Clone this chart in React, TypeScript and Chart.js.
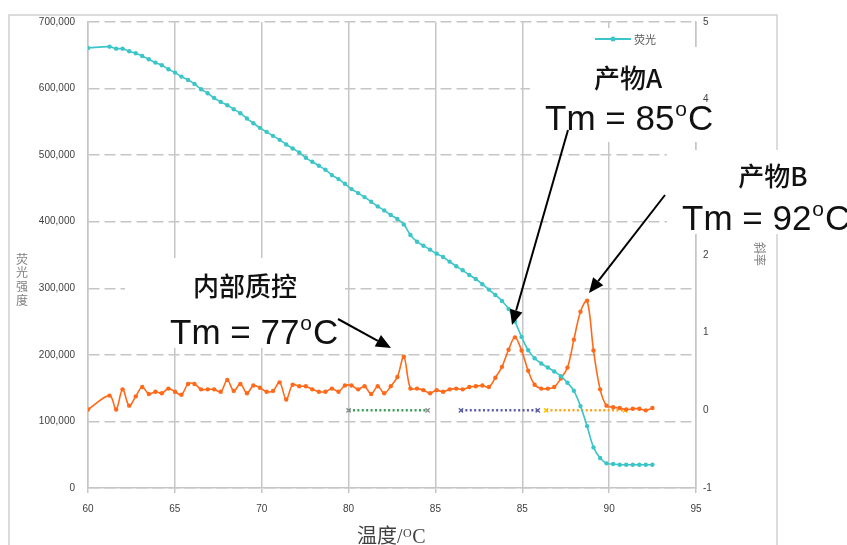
import React, { useEffect, useRef } from "react";
import { Chart, registerables } from "chart.js";

Chart.register(...registerables);

// ---- data ----
const temps = [
  60.0, 61.24, 61.62, 61.99, 62.37, 62.75, 63.12, 63.5, 63.88, 64.25,
  64.63, 65.01, 65.38, 65.76, 66.13, 66.51, 66.89, 67.26, 67.64, 68.02,
  68.39, 68.77, 69.15, 69.52, 69.9, 70.28, 70.65, 71.03, 71.41, 71.78,
  72.16, 72.54, 72.91, 73.29, 73.67, 74.04, 74.42, 74.79, 75.17, 75.55,
  75.92, 76.3, 76.68, 77.05, 77.43, 77.81, 78.18, 78.56, 78.94, 79.31,
  79.69, 80.07, 80.44, 80.82, 81.2, 81.57, 81.95, 82.32, 82.7, 83.08,
  83.45, 83.83, 84.21, 84.58, 84.96, 85.34, 85.71, 86.09, 86.47, 86.84,
  87.22, 87.6, 87.97, 88.35, 88.73, 89.1, 89.48, 89.85, 90.23, 90.61,
  90.98, 91.36, 91.74, 92.11, 92.49,
];

const fluorescence = [
  661000, 663000, 660000, 660000, 656000, 653000, 649000, 644000, 639000, 635000,
  629000, 624000, 618000, 613000, 607000, 599000, 593000, 586000, 580000, 575000,
  569000, 563000, 555000, 548000, 541000, 535000, 529000, 523000, 516000, 510000,
  504000, 496000, 490000, 484000, 478000, 470000, 464000, 457000, 449000, 443000,
  437000, 430000, 423000, 417000, 410000, 404000, 396000, 380000, 370000, 364000,
  358000, 352000, 347000, 340000, 333000, 327000, 320000, 314000, 306000, 298000,
  290000, 281000, 269000, 250000, 227000, 207000, 195000, 187000, 181000, 175000,
  168000, 158000, 146000, 123000, 93000, 61000, 45000, 37000, 36000, 35000,
  35000, 35000, 35000, 35000, 35000,
];

const slope = [
  0.01, 0.19, 0.01, 0.27, 0.06, 0.18, 0.3, 0.21, 0.24, 0.22,
  0.28, 0.24, 0.2, 0.34, 0.34, 0.27, 0.27, 0.27, 0.24, 0.39,
  0.25, 0.34, 0.22, 0.32, 0.29, 0.24, 0.25, 0.36, 0.14, 0.33,
  0.31, 0.31, 0.27, 0.24, 0.24, 0.28, 0.24, 0.32, 0.32, 0.27,
  0.31, 0.21, 0.31, 0.22, 0.31, 0.43, 0.69, 0.28, 0.28, 0.26,
  0.22, 0.26, 0.24, 0.27, 0.28, 0.27, 0.3, 0.31, 0.32, 0.3,
  0.42, 0.56, 0.78, 0.94, 0.77, 0.51, 0.33, 0.28, 0.28, 0.3,
  0.41, 0.55, 0.91, 1.27, 1.41, 0.77, 0.27, 0.06, 0.04, 0.03,
  0.01, 0.02, 0.02, 0.0, 0.03,
];

const xTickLabels = ["60", "65", "70", "80", "85", "85", "90", "95"];

const rangeInternal = [75.0, 79.55];
const rangeProductA = [81.47, 85.89];
const rangeProductB = [86.37, 90.92];
const rangeLevel = [0, 0];

const legendLabel = "荧光";
const leftTitle = "荧光强度";
const rightTitle = "斜率";
const xTitleMain = "温度/";
const icLabel = "内部质控";
const aLabel = "产物A";
const bLabel = "产物B";
const tmIC = ["Tm = 77", "o", "C"];
const tmA = ["Tm = 85", "o", "C"];
const tmB = ["Tm = 92", "o", "C"];

// ---- style ----
const CYAN = "#3CC5C8";
const ORANGE = "#FF6A1A";
const GRID = "#c6c6c6";
const TICK = "#404040";
const CJK = '"Noto Sans CJK SC", sans-serif';
const SANS = '"Liberation Sans", Arial, sans-serif';

function drawArrow(ctx: CanvasRenderingContext2D, x1: number, y1: number, x2: number, y2: number) {
  const ang = Math.atan2(y2 - y1, x2 - x1);
  const hl = 15;
  const hw = 6.5;
  const bx = x2 - hl * Math.cos(ang);
  const by = y2 - hl * Math.sin(ang);
  ctx.save();
  ctx.strokeStyle = "#000";
  ctx.fillStyle = "#000";
  ctx.lineWidth = 2;
  ctx.beginPath();
  ctx.moveTo(x1, y1);
  ctx.lineTo(bx, by);
  ctx.stroke();
  ctx.beginPath();
  ctx.moveTo(x2, y2);
  ctx.lineTo(bx + hw * Math.sin(ang), by - hw * Math.cos(ang));
  ctx.lineTo(bx - hw * Math.sin(ang), by + hw * Math.cos(ang));
  ctx.closePath();
  ctx.fill();
  ctx.restore();
}

function drawTm(ctx: CanvasRenderingContext2D, parts: string[], x: number, baseline: number, size: number) {
  ctx.save();
  ctx.fillStyle = "#111";
  ctx.textAlign = "left";
  ctx.textBaseline = "alphabetic";
  ctx.font = `${size}px ${SANS}`;
  ctx.fillText(parts[0], x, baseline);
  let w = ctx.measureText(parts[0]).width + 1;
  ctx.font = `${Math.round(size * 0.6)}px ${SANS}`;
  ctx.fillText(parts[1], x + w, baseline - size * 0.4);
  w += ctx.measureText(parts[1]).width + 1;
  ctx.font = `${size}px ${SANS}`;
  ctx.fillText(parts[2], x + w, baseline);
  ctx.restore();
}

function drawCJK(ctx: CanvasRenderingContext2D, text: string, cx: number, cy: number, size: number) {
  ctx.save();
  ctx.fillStyle = "#111";
  ctx.font = `500 ${size}px ${CJK}`;
  ctx.textAlign = "center";
  ctx.textBaseline = "middle";
  ctx.fillText(text, cx, cy);
  ctx.restore();
}

const overlayPlugin = {
  id: "overlay",
  beforeDraw(chart: any) {
    const ctx: CanvasRenderingContext2D = chart.ctx;
    ctx.save();
    ctx.fillStyle = "#fff";
    ctx.fillRect(0, 0, chart.width, chart.height);
    ctx.strokeStyle = "#d0d0d0";
    ctx.lineWidth = 1.5;
    ctx.strokeRect(9, 15, 768, 560);
    ctx.restore();
  },
  beforeDatasetsDraw(chart: any) {
    const ctx: CanvasRenderingContext2D = chart.ctx;
    ctx.save();
    ctx.fillStyle = "#fff";
    // annotation text boxes (white fill hides the grid behind them)
    ctx.fillRect(125, 258, 220, 90);
    ctx.fillRect(530, 47, 170, 95);
    ctx.fillRect(588, 28, 104, 22);
    ctx.fillRect(667, 150, 180, 84);
    ctx.restore();
  },
  afterDraw(chart: any) {
    const ctx: CanvasRenderingContext2D = chart.ctx;
    // legend
    ctx.save();
    ctx.strokeStyle = CYAN;
    ctx.lineWidth = 2;
    ctx.beginPath();
    ctx.moveTo(595, 39);
    ctx.lineTo(631, 39);
    ctx.stroke();
    ctx.fillStyle = CYAN;
    ctx.beginPath();
    ctx.arc(613, 39, 2.5, 0, Math.PI * 2);
    ctx.fill();
    ctx.fillStyle = "#595959";
    ctx.font = `11px ${CJK}`;
    ctx.textAlign = "left";
    ctx.textBaseline = "middle";
    ctx.fillText(legendLabel, 634, 40);
    ctx.restore();

    // left axis title (stacked)
    ctx.save();
    ctx.fillStyle = "#808080";
    ctx.font = `12px ${CJK}`;
    ctx.textAlign = "center";
    ctx.textBaseline = "middle";
    const chars = Array.from(leftTitle);
    chars.forEach((c, i) => ctx.fillText(c, 22, 259 + i * 13.7));
    ctx.restore();

    // right axis title (rotated)
    ctx.save();
    ctx.fillStyle = "#808080";
    ctx.font = `12px ${CJK}`;
    ctx.translate(760, 254);
    ctx.rotate(Math.PI / 2);
    ctx.textAlign = "center";
    ctx.textBaseline = "middle";
    ctx.fillText(rightTitle, 0, 0);
    ctx.restore();

    // x axis title
    ctx.save();
    ctx.fillStyle = "#404040";
    ctx.textAlign = "left";
    ctx.textBaseline = "alphabetic";
    ctx.font = `20px "Liberation Serif", "Noto Sans CJK SC", serif`;
    ctx.fillText(xTitleMain, 357, 543);
    let w = ctx.measureText(xTitleMain).width;
    ctx.font = `12px "Liberation Serif", serif`;
    ctx.fillText("O", 357 + w + 0.5, 537);
    w += ctx.measureText("O").width + 1;
    ctx.font = `20px "Liberation Serif", serif`;
    ctx.fillText("C", 357 + w, 543);
    ctx.restore();

    // annotations
    drawCJK(ctx, icLabel, 245, 286, 26);
    drawTm(ctx, tmIC, 170, 344, 35);
    drawCJK(ctx, aLabel, 628, 78, 26);
    drawTm(ctx, tmA, 545, 130, 35);
    drawCJK(ctx, bLabel, 773, 176, 26);
    drawTm(ctx, tmB, 682, 230, 35);

    drawArrow(ctx, 338, 319, 391, 348);
    drawArrow(ctx, 568, 130, 512, 325);
    drawArrow(ctx, 665, 195, 589, 293);
  },
};

export default function App() {
  const ref = useRef<HTMLCanvasElement | null>(null);

  useEffect(() => {
    if (!ref.current) return;
    const pts = (ys: number[]) => temps.map((t, i) => ({ x: t, y: ys[i] }));
    const rangeDs = (r: number[], line: string, marker: string) => ({
      type: "line" as const,
      label: "",
      data: r.map((x, i) => ({ x, y: rangeLevel[i] })),
      yAxisID: "y1",
      borderColor: line,
      borderWidth: 2.5,
      borderDash: [2, 2.4],
      pointStyle: "crossRot" as const,
      pointRadius: 3,
      pointBorderColor: marker,
      pointBackgroundColor: marker,
      pointBorderWidth: 1.3,
      tension: 0,
      order: 3,
    });

    const chart = new Chart(ref.current, {
      type: "line",
      data: {
        datasets: [
          {
            label: legendLabel,
            data: pts(fluorescence),
            yAxisID: "y",
            borderColor: CYAN,
            backgroundColor: CYAN,
            borderWidth: 1.6,
            pointRadius: 2.2,
            pointBorderWidth: 0,
            tension: 0.35,
            order: 1,
          },
          {
            label: "slope",
            data: pts(slope),
            yAxisID: "y1",
            borderColor: ORANGE,
            backgroundColor: ORANGE,
            borderWidth: 1.6,
            pointRadius: 2.2,
            pointBorderWidth: 0,
            tension: 0.35,
            order: 2,
          },
          rangeDs(rangeInternal, "#3C9E5A", "#8a8a8a"),
          rangeDs(rangeProductA, "#5A5EA8", "#5A5EA8"),
          rangeDs(rangeProductB, "#FFA31A", "#FFC000"),
        ],
      },
      options: {
        responsive: false,
        animation: false,
        devicePixelRatio: 1,
        layout: { padding: { top: 22, left: 0, right: 0, bottom: 0 } },
        plugins: { legend: { display: false }, tooltip: { enabled: false } },
        scales: {
          x: {
            type: "linear",
            min: 60,
            max: 95,
            afterFit: (s: any) => {
              s.height = 57;
            },
            grid: { color: GRID, lineWidth: 1.5, tickLength: 5, drawTicks: true },
            border: { color: GRID, width: 1.5 },
            ticks: {
              stepSize: 5,
              padding: 10,
              maxRotation: 0,
              color: TICK,
              font: { family: SANS, size: 10 },
              callback: (v: any) => xTickLabels[Math.round((Number(v) - 60) / 5)] ?? "",
            },
          },
          y: {
            type: "linear",
            position: "left",
            min: 0,
            max: 700000,
            afterFit: (s: any) => {
              s.width = 88;
            },
            grid: { color: GRID, lineWidth: 1.5, drawTicks: false },
            border: { color: GRID, width: 1.5, dash: [11, 5] },
            ticks: {
              stepSize: 100000,
              padding: 13,
              color: TICK,
              font: { family: SANS, size: 10 },
              callback: (v: any) => Number(v).toLocaleString("en-US"),
            },
          },
          y1: {
            type: "linear",
            position: "right",
            min: -1,
            max: 5,
            afterFit: (s: any) => {
              s.width = 151;
            },
            grid: { display: false, drawTicks: false },
            border: { color: GRID, width: 1.5 },
            ticks: {
              stepSize: 1,
              padding: 7,
              color: TICK,
              font: { family: SANS, size: 10 },
            },
          },
        },
      },
      plugins: [overlayPlugin],
    } as any);

    return () => chart.destroy();
  }, []);

  return (
    <div style={{ position: "absolute", left: 0, top: 0, width: 847, height: 545, background: "#fff" }}>
      <canvas ref={ref} width={847} height={545} style={{ width: 847, height: 545, display: "block" }} />
    </div>
  );
}
